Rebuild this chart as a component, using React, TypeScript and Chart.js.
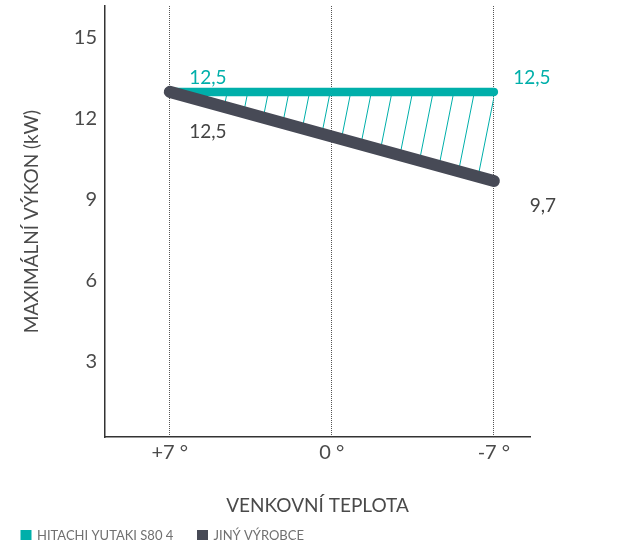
import React, { useEffect, useRef } from "react";
import { Chart, registerables } from "chart.js";

Chart.register(...registerables);

// ---- data ----
const temperatures = [7, 0, -7];
const tickLabels = ["+7 °", "0 °", "-7 °"];
const yTickValues = [3, 6, 9, 12, 15];
const hitachiValues = [13, 13, 13];
const otherValues = [13, 11.35, 9.7];
const hitachiLabels = ["12,5", "", "12,5"];
const otherLabels = ["12,5", "", "9,7"];
const seriesNames = ["HITACHI YUTAKI S80 4", "JINÝ VÝROBCE"];
const xTitle = "VENKOVNÍ TEPLOTA";
const yTitle = "MAXIMÁLNÍ VÝKON (kW)";

const TEAL = "#00AFAA";
const DARK = "#474A56";
const TEXT = "#4a4a4a";
const FONT = "Lato, 'Open Sans', sans-serif";

function makeHatch(): CanvasPattern | string {
  const tile = document.createElement("canvas");
  const size = 103;
  tile.width = size;
  tile.height = size;
  const c = tile.getContext("2d");
  if (!c) return TEAL;
  c.strokeStyle = TEAL;
  c.lineWidth = 1;
  const step = 20.6;
  const slope = 0.2; // x + slope*y = const
  const offset = 19;
  for (let k = -3; k <= 8; k++) {
    const k0 = offset + k * step;
    c.beginPath();
    c.moveTo(k0, 0);
    c.lineTo(k0 - slope * size, size);
    c.stroke();
  }
  const ctx = document.createElement("canvas").getContext("2d");
  const p = ctx ? ctx.createPattern(tile, "repeat") : null;
  return p || TEAL;
}

const dataLabelPlugin = {
  id: "dataLabels",
  afterDatasetsDraw(chart: any) {
    const ctx = chart.ctx;
    const offsets: Record<number, Record<number, [number, number]>> = {
      0: { 0: [38, -14], 2: [38, -14] },
      1: { 0: [38, 40], 2: [49, 25] },
    };
    const texts = [hitachiLabels, otherLabels];
    const colors = [TEAL, "#444"];
    ctx.save();
    ctx.font = `19px ${FONT}`;
    ctx.textAlign = "center";
    ctx.textBaseline = "middle";
    chart.data.datasets.forEach((_ds: any, di: number) => {
      const meta = chart.getDatasetMeta(di);
      meta.data.forEach((pt: any, i: number) => {
        const t = texts[di][i];
        if (!t) return;
        const off = offsets[di][i] || [0, 0];
        ctx.fillStyle = colors[di];
        ctx.fillText(t, pt.x + off[0], pt.y + off[1]);
      });
    });
    ctx.restore();
  },
};

const legendPlugin = {
  id: "customLegend",
  afterDraw(chart: any) {
    const ctx = chart.ctx;
    const starts = [20.5, 197];
    ctx.save();
    ctx.font = `13px ${FONT}`;
    ctx.textBaseline = "middle";
    ctx.textAlign = "left";
    chart.data.datasets.forEach((ds: any, i: number) => {
      const x = starts[i];
      ctx.fillStyle = ds.borderColor;
      ctx.fillRect(x, 530, 11, 10);
      ctx.fillStyle = "#707070";
      ctx.fillText(ds.label, x + 16.5, 535.5);
    });
    ctx.restore();
  },
};

export default function App() {
  const ref = useRef<HTMLCanvasElement>(null);
  useEffect(() => {
    const canvas = ref.current;
    if (!canvas) return;
    const hatch = makeHatch();
    const chart = new Chart(canvas, {
      type: "line",
      data: {
        datasets: [
          {
            label: seriesNames[0],
            data: temperatures.map((t, i) => ({ x: t, y: hitachiValues[i] })),
            borderColor: TEAL,
            backgroundColor: hatch as any,
            borderWidth: 8.5,
            borderCapStyle: "round",
            borderJoinStyle: "round",
            pointRadius: 0,
            pointHoverRadius: 0,
            tension: 0,
            fill: "+1",
            order: 1,
          },
          {
            label: seriesNames[1],
            data: temperatures.map((t, i) => ({ x: t, y: otherValues[i] })),
            borderColor: DARK,
            backgroundColor: DARK,
            borderWidth: 12,
            borderCapStyle: "round",
            borderJoinStyle: "round",
            pointRadius: 0,
            pointHoverRadius: 0,
            tension: 0,
            fill: false,
            order: 0,
          },
        ],
      },
      options: {
        animation: false,
        responsive: true,
        maintainAspectRatio: false,
        layout: { padding: { left: 0, right: 112, top: 6, bottom: 27 } },
        plugins: {
          legend: { display: false },
          tooltip: { enabled: false },
        },
        scales: {
          x: {
            type: "linear",
            reverse: true,
            min: -8.56,
            max: 9.8,
            afterBuildTicks: (scale: any) => {
              scale.ticks = temperatures.map((v) => ({ value: v }));
            },
            afterFit: (scale: any) => {
              scale.height = 80;
              scale.paddingLeft = 0;
              scale.paddingRight = 0;
            },
            ticks: {
              autoSkip: false,
              maxRotation: 0,
              padding: 4,
              color: TEXT,
              font: { family: FONT, size: 20 },
              callback: (v: any) => {
                const i = temperatures.indexOf(Number(v));
                return i >= 0 ? tickLabels[i] : "";
              },
            },
            grid: {
              display: true,
              drawOnChartArea: true,
              drawTicks: false,
              color: "#555",
              lineWidth: 1,
            },
            border: { display: true, color: "#333", width: 1.5, dash: [1, 1] },
            title: {
              display: true,
              text: xTitle,
              color: TEXT,
              font: { family: FONT, size: 19 },
              padding: { top: 0, bottom: 0 },
            },
          },
          y: {
            type: "linear",
            min: 0.22,
            max: 16.18,
            afterBuildTicks: (scale: any) => {
              scale.ticks = yTickValues.map((v) => ({ value: v }));
            },
            afterFit: (scale: any) => {
              scale.width = 105;
              scale.paddingTop = 0;
              scale.paddingBottom = 0;
            },
            ticks: {
              padding: 8,
              color: TEXT,
              font: { family: FONT, size: 20 },
            },
            grid: { display: false, drawTicks: false },
            border: { display: true, color: "#333", width: 1.5 },
            title: {
              display: true,
              text: yTitle,
              color: TEXT,
              font: { family: FONT, size: 19 },
              padding: { top: 20, bottom: 0 },
            },
          },
        },
      },
      plugins: [dataLabelPlugin, legendPlugin],
    } as any);
    return () => chart.destroy();
  }, []);
  return (
    <div style={{ position: "absolute", left: 0, top: 0, width: 642, height: 544 }}>
      <canvas ref={ref} />
    </div>
  );
}
